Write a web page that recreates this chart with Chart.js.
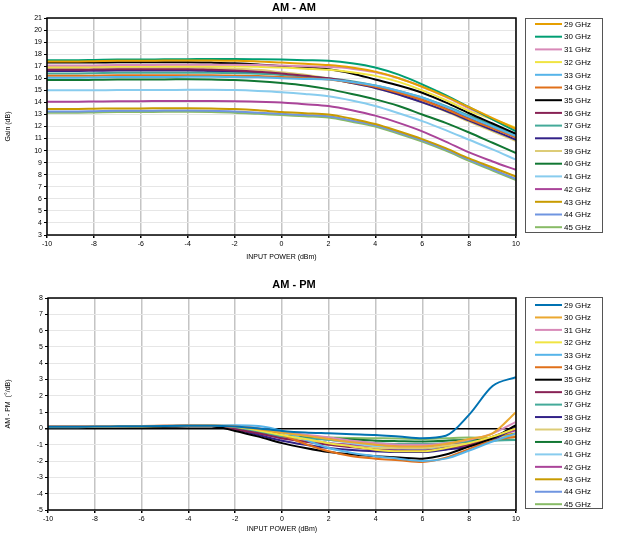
<!DOCTYPE html>
<html>
<head>
<meta charset="utf-8">
<script src="https://cdn.jsdelivr.net/npm/chart.js@4"></script>
<style>
  body { margin: 0; background: #fff; }
  .wrap { position: absolute; left: 0; }
</style>
</head>
<body>
<div class="wrap" style="top:0"><canvas id="amam" width="623" height="270"></canvas></div>
<div class="wrap" style="top:270px"><canvas id="ampm" width="623" height="269"></canvas></div>
<script>
// input power sweep, dBm
const inputPower = [-10, -9, -8, -7, -6, -5, -4, -3, -2, -1, 0, 1, 2, 3, 4, 5, 6, 7, 8, 9, 10];
const freqLabels = ['29 GHz', '30 GHz', '31 GHz', '32 GHz', '33 GHz', '34 GHz', '35 GHz', '36 GHz', '37 GHz',
  '38 GHz', '39 GHz', '40 GHz', '41 GHz', '42 GHz', '43 GHz', '44 GHz', '45 GHz'];

// AM-AM gain (dB)
const gain29 = [17.4, 17.4, 17.42, 17.45, 17.45, 17.47, 17.48, 17.48, 17.45, 17.4, 17.3, 17.2, 17.1, 16.9, 16.55, 16.0, 15.3, 14.5, 13.6, 12.7, 11.8];
const gain30 = [17.5, 17.5, 17.52, 17.55, 17.55, 17.57, 17.58, 17.6, 17.6, 17.58, 17.55, 17.5, 17.45, 17.25, 16.9, 16.3, 15.5, 14.6, 13.6, 12.6, 11.6];
const gain31 = [17.05, 17.05, 17.07, 17.1, 17.1, 17.12, 17.12, 17.12, 17.12, 17.1, 17.05, 17.0, 16.95, 16.8, 16.5, 16.0, 15.3, 14.45, 13.5, 12.6, 11.7];
const gain32 = [16.95, 16.95, 16.97, 17.0, 17.0, 17.0, 17.0, 17.0, 16.98, 16.95, 16.9, 16.8, 16.7, 16.5, 16.2, 15.7, 15.0, 14.2, 13.3, 12.6, 11.9];
const gain33 = [16.05, 16.05, 16.07, 16.1, 16.1, 16.1, 16.12, 16.12, 16.1, 16.08, 16.0, 15.95, 15.9, 15.7, 15.4, 14.95, 14.4, 13.65, 12.8, 12.0, 11.2];
const gain34 = [16.2, 16.2, 16.22, 16.25, 16.25, 16.25, 16.25, 16.25, 16.22, 16.18, 16.1, 16.0, 15.9, 15.65, 15.3, 14.8, 14.2, 13.45, 12.6, 11.85, 11.1];
const gain35 = [17.3, 17.3, 17.3, 17.32, 17.32, 17.33, 17.33, 17.3, 17.25, 17.15, 17.0, 16.9, 16.75, 16.4, 15.9, 15.4, 14.8, 14.0, 13.1, 12.25, 11.4];
const gain36 = [16.7, 16.7, 16.72, 16.75, 16.75, 16.75, 16.75, 16.7, 16.65, 16.55, 16.4, 16.2, 16.0, 15.7, 15.3, 14.8, 14.2, 13.5, 12.7, 11.9, 11.1];
const gain37 = [16.4, 16.4, 16.42, 16.45, 16.45, 16.45, 16.45, 16.45, 16.42, 16.38, 16.3, 16.15, 16.0, 15.75, 15.4, 14.95, 14.4, 13.7, 12.9, 12.1, 11.3];
const gain38 = [16.6, 16.6, 16.62, 16.65, 16.65, 16.65, 16.65, 16.6, 16.55, 16.45, 16.3, 16.15, 15.95, 15.6, 15.2, 14.65, 14.0, 13.3, 12.5, 11.7, 10.9];
const gain39 = [16.85, 16.85, 16.87, 16.9, 16.9, 16.9, 16.9, 16.85, 16.8, 16.7, 16.5, 16.3, 16.0, 15.6, 15.2, 14.65, 14.0, 13.25, 12.4, 11.6, 10.8];
const gain40 = [15.85, 15.85, 15.87, 15.9, 15.9, 15.9, 15.92, 15.9, 15.85, 15.75, 15.6, 15.4, 15.1, 14.7, 14.25, 13.7, 13.0, 12.3, 11.5, 10.65, 9.8];
const gain41 = [15.0, 15.0, 15.0, 15.02, 15.02, 15.02, 15.05, 15.05, 15.02, 14.95, 14.85, 14.7, 14.5, 14.15, 13.7, 13.1, 12.45, 11.7, 10.9, 10.1, 9.25];
const gain42 = [14.05, 14.05, 14.07, 14.1, 14.1, 14.12, 14.12, 14.12, 14.1, 14.05, 14.0, 13.85, 13.7, 13.35, 12.9, 12.3, 11.6, 10.75, 9.85, 9.1, 8.4];
const gain43 = [13.45, 13.45, 13.47, 13.5, 13.5, 13.52, 13.52, 13.5, 13.45, 13.35, 13.2, 13.1, 13.0, 12.65, 12.2, 11.6, 10.95, 10.2, 9.35, 8.6, 7.85];
const gain44 = [13.25, 13.25, 13.27, 13.3, 13.3, 13.32, 13.32, 13.3, 13.25, 13.15, 13.05, 12.95, 12.85, 12.5, 12.1, 11.5, 10.85, 10.1, 9.25, 8.45, 7.65];
const gain45 = [13.15, 13.15, 13.17, 13.2, 13.2, 13.22, 13.22, 13.2, 13.15, 13.05, 12.95, 12.85, 12.75, 12.4, 12.0, 11.4, 10.75, 10.0, 9.15, 8.35, 7.55];

// AM-PM (deg/dB)
const phase29 = [0.1, 0.1, 0.12, 0.13, 0.14, 0.15, 0.16, 0.17, 0.12, 0.0, -0.15, -0.25, -0.3, -0.35, -0.4, -0.5, -0.6, -0.45, 0.85, 2.6, 3.15];
const phase30 = [0.1, 0.1, 0.12, 0.13, 0.14, 0.15, 0.16, 0.17, 0.12, -0.05, -0.25, -0.45, -0.65, -0.85, -1.0, -1.1, -1.1, -0.95, -0.65, -0.3, 1.0];
const phase31 = [0.12, 0.12, 0.13, 0.14, 0.15, 0.16, 0.17, 0.17, 0.12, 0.0, -0.2, -0.38, -0.55, -0.75, -0.9, -1.0, -1.0, -0.9, -0.7, -0.3, 0.4];
const phase32 = [0.1, 0.1, 0.12, 0.13, 0.14, 0.15, 0.16, 0.17, 0.1, -0.12, -0.4, -0.65, -0.9, -1.1, -1.3, -1.4, -1.4, -1.2, -0.9, -0.5, 0.0];
const phase33 = [0.08, 0.08, 0.1, 0.12, 0.14, 0.15, 0.17, 0.18, 0.2, 0.15, -0.15, -0.7, -1.2, -1.5, -1.7, -1.85, -2.0, -1.85, -1.35, -0.8, -0.3];
const phase34 = [0.1, 0.1, 0.12, 0.13, 0.14, 0.16, 0.17, 0.18, 0.15, 0.0, -0.4, -0.95, -1.4, -1.7, -1.85, -1.95, -2.05, -1.8, -1.25, -0.75, -0.5];
const phase35 = [0.05, 0.05, 0.07, 0.08, 0.1, 0.1, 0.12, 0.12, -0.15, -0.5, -0.9, -1.2, -1.45, -1.6, -1.7, -1.78, -1.85, -1.6, -1.1, -0.6, 0.2];
const phase36 = [0.1, 0.1, 0.12, 0.13, 0.14, 0.15, 0.16, 0.15, -0.05, -0.3, -0.6, -0.82, -1.0, -1.15, -1.3, -1.35, -1.35, -1.2, -1.0, -0.5, 0.0];
const phase37 = [0.1, 0.1, 0.12, 0.13, 0.14, 0.15, 0.16, 0.16, 0.05, -0.2, -0.5, -0.6, -0.7, -0.8, -0.9, -0.95, -0.95, -0.9, -0.8, -0.75, -0.7];
const phase38 = [0.1, 0.1, 0.12, 0.13, 0.14, 0.15, 0.16, 0.15, -0.05, -0.4, -0.75, -1.0, -1.2, -1.32, -1.4, -1.45, -1.45, -1.3, -1.1, -0.7, 0.1];
const phase39 = [0.1, 0.1, 0.12, 0.13, 0.14, 0.15, 0.16, 0.16, 0.05, -0.2, -0.5, -0.75, -1.0, -1.1, -1.2, -1.2, -1.2, -1.05, -0.9, -0.65, -0.4];
const phase40 = [0.08, 0.08, 0.1, 0.12, 0.13, 0.14, 0.15, 0.15, 0.0, -0.25, -0.45, -0.55, -0.6, -0.68, -0.75, -0.78, -0.8, -0.75, -0.7, -0.7, -0.7];
const phase41 = [0.1, 0.1, 0.12, 0.13, 0.14, 0.15, 0.16, 0.17, 0.12, -0.1, -0.35, -0.52, -0.7, -0.9, -1.1, -1.2, -1.3, -1.2, -1.0, -0.75, -0.5];
const phase42 = [0.1, 0.1, 0.12, 0.13, 0.14, 0.15, 0.16, 0.15, 0.0, -0.3, -0.6, -0.75, -0.9, -1.0, -1.1, -1.1, -1.1, -1.0, -0.9, -0.55, -0.1];
const phase43 = [0.12, 0.12, 0.13, 0.14, 0.15, 0.16, 0.17, 0.17, 0.12, -0.05, -0.3, -0.5, -0.7, -0.85, -1.0, -1.1, -1.2, -1.05, -0.8, -0.55, -0.3];
const phase44 = [0.1, 0.1, 0.12, 0.13, 0.14, 0.15, 0.16, 0.16, 0.08, -0.2, -0.45, -0.68, -0.9, -1.05, -1.2, -1.25, -1.3, -1.15, -0.9, -0.65, -0.4];
const phase45 = [0.1, 0.1, 0.12, 0.13, 0.14, 0.15, 0.16, 0.15, 0.05, -0.15, -0.4, -0.5, -0.55, -0.58, -0.6, -0.62, -0.65, -0.6, -0.55, -0.6, -0.7];

const gainSeries = [gain29, gain30, gain31, gain32, gain33, gain34, gain35, gain36, gain37, gain38, gain39, gain40, gain41, gain42, gain43, gain44, gain45];
const phaseSeries = [phase29, phase30, phase31, phase32, phase33, phase34, phase35, phase36, phase37, phase38, phase39, phase40, phase41, phase42, phase43, phase44, phase45];

const gainColors = ['#E69F00', '#009E73', '#D889B8', '#F0E442', '#56B4E9', '#E0701A', '#000000', '#882255', '#44AA99',
  '#332288', '#DDCC77', '#117733', '#88CCEE', '#AA4499', '#C89B00', '#6F95E0', '#88BB66'];
const phaseColors = ['#0072B2', '#EBA830', '#D889B8', '#F0E442', '#56B4E9', '#E0701A', '#000000', '#882255', '#44AA99',
  '#332288', '#DDCC77', '#117733', '#88CCEE', '#AA4499', '#C89B00', '#6F95E0', '#88BB66'];

const FONT = 'Liberation Sans, Arial, sans-serif';

// frame, title and boxed legend
const decor = {
  id: 'decor',
  afterDraw(chart, args, o) {
    const ctx = chart.ctx;
    const a = chart.chartArea;
    ctx.save();
    ctx.strokeStyle = '#000';
    ctx.lineWidth = 1.5;
    ctx.strokeRect(a.left, a.top, a.right - a.left, a.bottom - a.top);

    ctx.fillStyle = '#000';
    ctx.font = 'bold 11px ' + FONT;
    ctx.textAlign = 'center';
    ctx.textBaseline = 'middle';
    ctx.fillText(o.title, o.titleX, o.titleY);

    ctx.strokeStyle = '#555';
    ctx.lineWidth = 1;
    ctx.strokeRect(o.box.x + 0.5, o.box.y + 0.5, o.box.w, o.box.h);
    ctx.font = '8px ' + FONT;
    ctx.textAlign = 'left';
    chart.data.datasets.forEach((ds, i) => {
      const y = o.firstY + i * o.step;
      ctx.strokeStyle = ds.borderColor;
      ctx.lineWidth = 2;
      ctx.beginPath();
      ctx.moveTo(o.box.x + 10, y);
      ctx.lineTo(o.box.x + 37, y);
      ctx.stroke();
      ctx.fillStyle = '#000';
      ctx.fillText(ds.label, o.box.x + 39, y + 0.5);
    });
    ctx.restore();
  }
};

function makeChart(id, series, colors, cfg) {
  const datasets = series.map((vals, i) => ({
    label: freqLabels[i],
    data: vals.map((v, j) => ({ x: inputPower[j], y: v })),
    borderColor: colors[i],
    borderWidth: 2,
    pointRadius: 0,
    cubicInterpolationMode: 'monotone',
    fill: false
  }));
  return new Chart(document.getElementById(id), {
    type: 'line',
    data: { datasets },
    plugins: [decor],
    options: {
      responsive: false,
      animation: false,
      devicePixelRatio: 1,
      layout: { padding: { top: cfg.top, right: 107, left: 4, bottom: cfg.bottom } },
      plugins: { legend: { display: false }, tooltip: { enabled: false }, decor: cfg.decor },
      scales: {
        x: {
          type: 'linear', min: -10, max: 10,
          ticks: { stepSize: 2, font: { size: 7, family: FONT }, color: '#000', padding: 2, maxRotation: 0 },
          grid: { color: '#C4C4C4', lineWidth: 1.5, tickLength: 3, tickColor: '#000' },
          border: { display: false },
          title: { display: true, text: 'INPUT POWER (dBm)', font: { size: 7, family: FONT }, color: '#000', padding: { top: 4, bottom: 0 } },
          afterFit(s) { s.height = cfg.xHeight; }
        },
        y: {
          min: cfg.yMin, max: cfg.yMax,
          ticks: { stepSize: 1, font: { size: 7, family: FONT }, color: '#000', padding: 2 },
          grid: {
            color: c => (cfg.zeroLine && c.tick && c.tick.value === 0) ? '#000' : '#E6E6E6',
            lineWidth: c => (cfg.zeroLine && c.tick && c.tick.value === 0) ? 1.5 : 1,
            tickLength: 3, tickColor: '#000'
          },
          border: { display: false },
          title: { display: true, text: cfg.yTitle, font: { size: 7, family: FONT }, color: '#000', padding: { top: 0, bottom: 6 } },
          afterFit(s) { s.width = cfg.yWidth; }
        }
      }
    }
  });
}

makeChart('amam', gainSeries, gainColors, {
  top: 18, bottom: 9, xHeight: 26, yWidth: 43, yMin: 3, yMax: 21, yTitle: 'Gain (dB)', zeroLine: false,
  decor: { title: 'AM - AM', titleX: 294, titleY: 8, box: { x: 525, y: 18, w: 77, h: 214 }, firstY: 24, step: 12.7 }
});

makeChart('ampm', phaseSeries, phaseColors, {
  top: 28, bottom: 6, xHeight: 23, yWidth: 44, yMin: -5, yMax: 8, yTitle: 'AM - PM  (°/dB)', zeroLine: true,
  decor: { title: 'AM - PM', titleX: 294, titleY: 15, box: { x: 525, y: 27, w: 77, h: 211 }, firstY: 35, step: 12.45 }
});
</script>
</body>
</html>
